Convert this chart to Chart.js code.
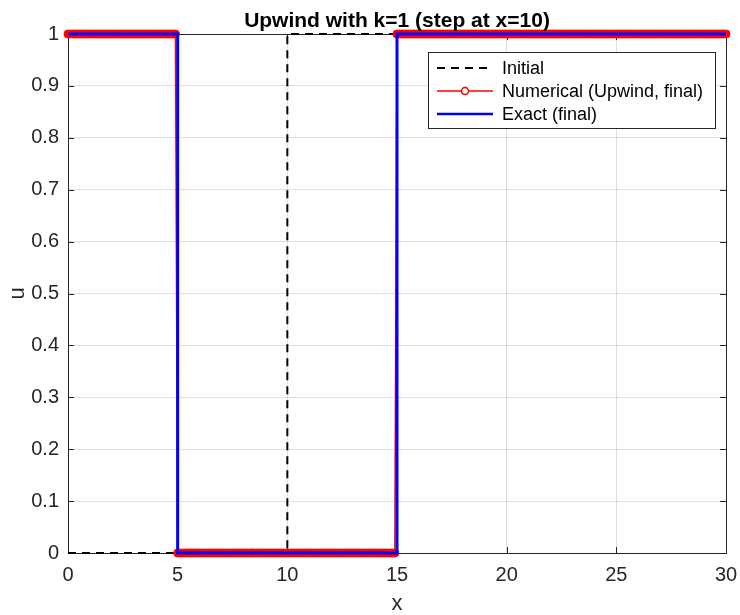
<!DOCTYPE html>
<html>
<head>
<meta charset="utf-8">
<script src="https://cdn.jsdelivr.net/npm/chart.js@4/dist/chart.umd.min.js"></script>
<style>
  html, body { margin: 0; padding: 0; background: #fff; }
  canvas { display: block; }
</style>
</head>
<body>
<canvas id="chart" width="740" height="615"></canvas>
<script>
// initial condition (step at x=10)
const initX = [0, 10, 10, 30];
const initU = [0, 0, 1, 1];

// numerical upwind solution, final time (grid dx = 0.1)
const numX = [
  0, 0.1, 0.2, 0.3, 0.4, 0.5, 0.6, 0.7, 0.8, 0.9,
  1, 1.1, 1.2, 1.3, 1.4, 1.5, 1.6, 1.7, 1.8, 1.9,
  2, 2.1, 2.2, 2.3, 2.4, 2.5, 2.6, 2.7, 2.8, 2.9,
  3, 3.1, 3.2, 3.3, 3.4, 3.5, 3.6, 3.7, 3.8, 3.9,
  4, 4.1, 4.2, 4.3, 4.4, 4.5, 4.6, 4.7, 4.8, 4.9,
  5, 5.1, 5.2, 5.3, 5.4, 5.5, 5.6, 5.7, 5.8, 5.9,
  6, 6.1, 6.2, 6.3, 6.4, 6.5, 6.6, 6.7, 6.8, 6.9,
  7, 7.1, 7.2, 7.3, 7.4, 7.5, 7.6, 7.7, 7.8, 7.9,
  8, 8.1, 8.2, 8.3, 8.4, 8.5, 8.6, 8.7, 8.8, 8.9,
  9, 9.1, 9.2, 9.3, 9.4, 9.5, 9.6, 9.7, 9.8, 9.9,
  10, 10.1, 10.2, 10.3, 10.4, 10.5, 10.6, 10.7, 10.8, 10.9,
  11, 11.1, 11.2, 11.3, 11.4, 11.5, 11.6, 11.7, 11.8, 11.9,
  12, 12.1, 12.2, 12.3, 12.4, 12.5, 12.6, 12.7, 12.8, 12.9,
  13, 13.1, 13.2, 13.3, 13.4, 13.5, 13.6, 13.7, 13.8, 13.9,
  14, 14.1, 14.2, 14.3, 14.4, 14.5, 14.6, 14.7, 14.8, 14.9,
  15, 15.1, 15.2, 15.3, 15.4, 15.5, 15.6, 15.7, 15.8, 15.9,
  16, 16.1, 16.2, 16.3, 16.4, 16.5, 16.6, 16.7, 16.8, 16.9,
  17, 17.1, 17.2, 17.3, 17.4, 17.5, 17.6, 17.7, 17.8, 17.9,
  18, 18.1, 18.2, 18.3, 18.4, 18.5, 18.6, 18.7, 18.8, 18.9,
  19, 19.1, 19.2, 19.3, 19.4, 19.5, 19.6, 19.7, 19.8, 19.9,
  20, 20.1, 20.2, 20.3, 20.4, 20.5, 20.6, 20.7, 20.8, 20.9,
  21, 21.1, 21.2, 21.3, 21.4, 21.5, 21.6, 21.7, 21.8, 21.9,
  22, 22.1, 22.2, 22.3, 22.4, 22.5, 22.6, 22.7, 22.8, 22.9,
  23, 23.1, 23.2, 23.3, 23.4, 23.5, 23.6, 23.7, 23.8, 23.9,
  24, 24.1, 24.2, 24.3, 24.4, 24.5, 24.6, 24.7, 24.8, 24.9,
  25, 25.1, 25.2, 25.3, 25.4, 25.5, 25.6, 25.7, 25.8, 25.9,
  26, 26.1, 26.2, 26.3, 26.4, 26.5, 26.6, 26.7, 26.8, 26.9,
  27, 27.1, 27.2, 27.3, 27.4, 27.5, 27.6, 27.7, 27.8, 27.9,
  28, 28.1, 28.2, 28.3, 28.4, 28.5, 28.6, 28.7, 28.8, 28.9,
  29, 29.1, 29.2, 29.3, 29.4, 29.5, 29.6, 29.7, 29.8, 29.9,
  30
];
const numU = [
  1, 1, 1, 1, 1, 1, 1, 1, 1, 1,
  1, 1, 1, 1, 1, 1, 1, 1, 1, 1,
  1, 1, 1, 1, 1, 1, 1, 1, 1, 1,
  1, 1, 1, 1, 1, 1, 1, 1, 1, 1,
  1, 1, 1, 1, 1, 1, 1, 1, 1, 1,
  0, 0, 0, 0, 0, 0, 0, 0, 0, 0,
  0, 0, 0, 0, 0, 0, 0, 0, 0, 0,
  0, 0, 0, 0, 0, 0, 0, 0, 0, 0,
  0, 0, 0, 0, 0, 0, 0, 0, 0, 0,
  0, 0, 0, 0, 0, 0, 0, 0, 0, 0,
  0, 0, 0, 0, 0, 0, 0, 0, 0, 0,
  0, 0, 0, 0, 0, 0, 0, 0, 0, 0,
  0, 0, 0, 0, 0, 0, 0, 0, 0, 0,
  0, 0, 0, 0, 0, 0, 0, 0, 0, 0,
  0, 0, 0, 0, 0, 0, 0, 0, 0, 0,
  1, 1, 1, 1, 1, 1, 1, 1, 1, 1,
  1, 1, 1, 1, 1, 1, 1, 1, 1, 1,
  1, 1, 1, 1, 1, 1, 1, 1, 1, 1,
  1, 1, 1, 1, 1, 1, 1, 1, 1, 1,
  1, 1, 1, 1, 1, 1, 1, 1, 1, 1,
  1, 1, 1, 1, 1, 1, 1, 1, 1, 1,
  1, 1, 1, 1, 1, 1, 1, 1, 1, 1,
  1, 1, 1, 1, 1, 1, 1, 1, 1, 1,
  1, 1, 1, 1, 1, 1, 1, 1, 1, 1,
  1, 1, 1, 1, 1, 1, 1, 1, 1, 1,
  1, 1, 1, 1, 1, 1, 1, 1, 1, 1,
  1, 1, 1, 1, 1, 1, 1, 1, 1, 1,
  1, 1, 1, 1, 1, 1, 1, 1, 1, 1,
  1, 1, 1, 1, 1, 1, 1, 1, 1, 1,
  1, 1, 1, 1, 1, 1, 1, 1, 1, 1,
  1
];

// exact solution, final time
const exactX = [0, 5, 5, 15, 15, 30];
const exactU = [1, 1, 0, 0, 1, 1];

const xTicks = [0, 5, 10, 15, 20, 25, 30];
const yTicks = [0, 0.1, 0.2, 0.3, 0.4, 0.5, 0.6, 0.7, 0.8, 0.9, 1];

const labels = ['Initial', 'Numerical (Upwind, final)', 'Exact (final)'];

const axisColor = '#262626';
const FONT = '"Liberation Sans", Arial, Helvetica, sans-serif';

function pts(xs, ys) {
  return xs.map((x, i) => ({ x: x, y: ys[i] }));
}

const matlabAxes = {
  id: 'matlabAxes',
  beforeDatasetsDraw(chart) {
    const ctx = chart.ctx;
    const a = chart.chartArea;
    const xs = chart.scales.x, ys = chart.scales.y;
    ctx.save();
    ctx.strokeStyle = axisColor;
    ctx.lineWidth = 1;
    ctx.beginPath();
    xTicks.forEach(v => {
      const px = Math.round(xs.getPixelForValue(v)) + 0.5;
      ctx.moveTo(px, a.bottom); ctx.lineTo(px, a.bottom - 6);
      ctx.moveTo(px, a.top); ctx.lineTo(px, a.top + 6);
    });
    yTicks.forEach(v => {
      const py = Math.round(ys.getPixelForValue(v)) + 0.5;
      ctx.moveTo(a.left, py); ctx.lineTo(a.left + 6, py);
      ctx.moveTo(a.right, py); ctx.lineTo(a.right - 6, py);
    });
    ctx.stroke();
    ctx.strokeRect(Math.round(a.left) + 0.5, Math.round(a.top) + 0.5,
      Math.round(a.right - a.left), Math.round(a.bottom - a.top));
    ctx.restore();
  },
  afterDraw(chart) {
    const ctx = chart.ctx;
    const a = chart.chartArea;
    const cx = (a.left + a.right) / 2;
    ctx.save();
    ctx.fillStyle = '#000';
    ctx.textAlign = 'center';
    ctx.textBaseline = 'alphabetic';
    ctx.font = 'bold 21px ' + FONT;
    ctx.fillText('Upwind with k=1 (step at x=10)', cx, 27);

    ctx.fillStyle = axisColor;
    ctx.font = '22px ' + FONT;
    ctx.fillText('x', cx, 610);
    ctx.save();
    ctx.translate(24, (a.top + a.bottom) / 2);
    ctx.rotate(-Math.PI / 2);
    ctx.fillText('u', 0, 0);
    ctx.restore();

    // legend box
    const lx = 428, ly = 52, lw = 287, lh = 76;
    ctx.fillStyle = '#fff';
    ctx.fillRect(lx, ly, lw, lh);
    ctx.strokeStyle = axisColor;
    ctx.lineWidth = 1;
    ctx.strokeRect(lx + 0.5, ly + 0.5, lw, lh);

    ctx.font = '18px ' + FONT;
    ctx.textAlign = 'left';
    ctx.textBaseline = 'middle';
    chart.data.datasets.forEach((ds, i) => {
      const y = 68 + i * 23;
      ctx.save();
      ctx.strokeStyle = ds.borderColor;
      ctx.lineWidth = ds.legendLineWidth || ds.borderWidth;
      ctx.setLineDash(ds.borderDash || []);
      ctx.beginPath();
      ctx.moveTo(437, y); ctx.lineTo(493, y);
      ctx.stroke();
      if (ds.pointRadius > 0) {
        ctx.setLineDash([]);
        ctx.lineWidth = 1.5;
        ctx.fillStyle = '#fff';
        ctx.beginPath();
        ctx.arc(465, y, 3.5, 0, Math.PI * 2);
        ctx.fill();
        ctx.stroke();
      }
      ctx.restore();
      ctx.fillStyle = '#000';
      ctx.fillText(ds.label, 502, y + 1);
    });
    ctx.restore();
  }
};

new Chart(document.getElementById('chart'), {
  type: 'line',
  data: {
    datasets: [
      {
        label: labels[0],
        data: pts(initX, initU),
        borderColor: '#000',
        borderWidth: 2,
        borderDash: [8, 6],
        pointRadius: 0,
        order: 3,
        clip: false
      },
      {
        label: labels[1],
        data: pts(numX, numU),
        borderColor: '#ff0000',
        borderWidth: 1.5,
        pointRadius: 4,
        pointBorderWidth: 1,
        pointBorderColor: '#ff0000',
        pointBackgroundColor: '#ff0000',
        order: 2,
        clip: false
      },
      {
        label: labels[2],
        data: pts(exactX, exactU),
        borderColor: '#0000ff',
        borderWidth: 3,
        legendLineWidth: 2.5,
        pointRadius: 0,
        order: 1,
        clip: false
      }
    ]
  },
  options: {
    responsive: false,
    animation: false,
    layout: { padding: { top: 34, right: 14, left: 0, bottom: 0 } },
    plugins: {
      legend: { display: false },
      title: { display: false },
      tooltip: { enabled: false }
    },
    elements: { line: { tension: 0 } },
    scales: {
      x: {
        type: 'linear',
        min: 0, max: 30,
        afterFit: s => { s.height = 62; s.paddingLeft = 0; s.paddingRight = 0; },
        afterBuildTicks: s => { s.ticks = xTicks.map(v => ({ value: v })); },
        grid: { color: 'rgba(38,38,38,0.15)', drawTicks: false },
        border: { display: false },
        ticks: {
          color: axisColor,
          font: { family: FONT, size: 20 },
          padding: 10,
          maxRotation: 0,
          callback: v => String(v)
        }
      },
      y: {
        type: 'linear',
        min: 0, max: 1,
        afterFit: s => { s.width = 68; s.paddingTop = 0; s.paddingBottom = 0; },
        afterBuildTicks: s => { s.ticks = yTicks.map(v => ({ value: v })); },
        grid: { color: 'rgba(38,38,38,0.15)', drawTicks: false },
        border: { display: false },
        ticks: {
          color: axisColor,
          font: { family: FONT, size: 20 },
          padding: 9,
          callback: v => String(+v.toFixed(1))
        }
      }
    }
  },
  plugins: [matlabAxes]
});
</script>
</body>
</html>
